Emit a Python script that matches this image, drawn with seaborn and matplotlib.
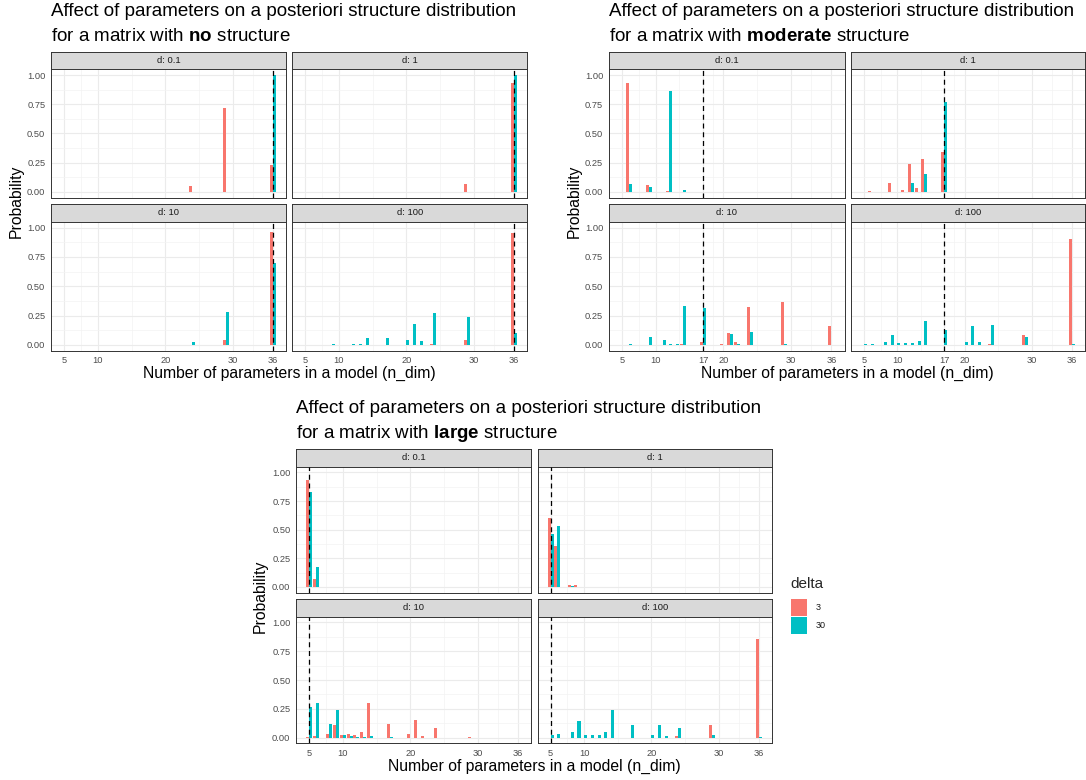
import pandas as pd
import matplotlib
matplotlib.use("Agg")
import matplotlib.pyplot as plt
from matplotlib.patches import Rectangle
import seaborn as sns

# --- DATA ---
NDIM = [5, 6, 8, 9, 10, 11, 12, 13, 14, 17, 20, 21, 22, 24, 29, 36]
D_LABELS = ["d: 0.1", "d: 1", "d: 10", "d: 100"]
DELTAS = ["3", "30"]
COLORS = {"3": "#F8766D", "30": "#00BFC4"}

# no structure       5     6     8     9     10    11    12    13    14    17    20    21    22    24    29    36
NO_D01_3    = [0,    0,    0,    0,    0,    0,    0,    0,    0,    0,    0,    0,    0,    0.05, 0.72, 0.23]
NO_D01_30   = [0,    0,    0,    0,    0,    0,    0,    0,    0,    0,    0,    0,    0,    0,    0,    1.00]
NO_D1_3     = [0,    0,    0,    0,    0,    0,    0,    0,    0,    0,    0,    0,    0,    0,    0.07, 0.93]
NO_D1_30    = [0,    0,    0,    0,    0,    0,    0,    0,    0,    0,    0,    0,    0,    0,    0,    1.00]
NO_D10_3    = [0,    0,    0,    0,    0,    0,    0,    0,    0,    0,    0,    0,    0,    0,    0.04, 0.96]
NO_D10_30   = [0,    0,    0,    0,    0,    0,    0,    0,    0,    0,    0,    0,    0,    0.02, 0.28, 0.70]
NO_D100_3   = [0,    0,    0,    0,    0,    0,    0,    0,    0,    0,    0,    0,    0,    0.003, 0.04, 0.957]
NO_D100_30  = [0,    0,    0.002, 0.003, 0.002, 0.002, 0.003, 0.011, 0.06, 0.06, 0.04, 0.177, 0.03, 0.27, 0.234, 0.10]

# moderate structure
MOD_D01_3   = [0,    0.93, 0.003, 0.06, 0,    0,    0.01, 0,    0,    0,    0,    0,    0,    0,    0,    0]
MOD_D01_30  = [0,    0.07, 0,    0.045, 0,   0,    0.86, 0,    0.02, 0.003, 0,   0,    0,    0,    0,    0]
MOD_D1_3    = [0,    0.01, 0,    0.074, 0,   0.02, 0.24, 0.03, 0.28, 0.345, 0,   0,    0,    0,    0,    0]
MOD_D1_30   = [0,    0,    0,    0.002, 0,   0,    0.074, 0,   0.15, 0.77, 0,    0,    0,    0,    0,    0]
MOD_D10_3   = [0,    0,    0,    0,    0,    0,    0,    0,    0.006, 0.02, 0.003, 0.097, 0.02, 0.326, 0.363, 0.163]
MOD_D10_30  = [0,    0.005, 0,   0.066, 0.002, 0.037, 0.011, 0.003, 0.33, 0.31, 0,  0.09, 0.011, 0.11, 0.011, 0]
MOD_D100_3  = [0,    0,    0,    0,    0,    0,    0,    0,    0,    0,    0,    0,    0,    0.008, 0.08, 0.905]
MOD_D100_30 = [0.005, 0.01, 0.02, 0.08, 0.012, 0.017, 0.012, 0.03, 0.205, 0.125, 0.025, 0.16, 0.028, 0.165, 0.066, 0.008]

# large structure
LRG_D01_3   = [0.93, 0.067, 0,   0,    0,    0,    0,    0,    0,    0,    0,    0,    0,    0,    0,    0]
LRG_D01_30  = [0.83, 0.174, 0,   0,    0,    0,    0,    0,    0,    0,    0,    0,    0,    0,    0,    0]
LRG_D1_3    = [0.60, 0.357, 0.02, 0.017, 0,  0,    0,    0,    0,    0,    0,    0,    0,    0,    0,    0]
LRG_D1_30   = [0.46, 0.53, 0.005, 0.003, 0,  0,    0,    0,    0,    0,    0,    0,    0,    0,    0,    0]
LRG_D10_3   = [0.003, 0.015, 0.032, 0.108, 0.02, 0.03, 0.018, 0.047, 0.296, 0.12, 0.027, 0.15, 0.012, 0.084, 0.008, 0]
LRG_D10_30  = [0.265, 0.30, 0.12, 0.24, 0.02, 0.015, 0.005, 0.003, 0.015, 0.002, 0, 0,   0,    0,    0,    0]
LRG_D100_3  = [0,    0,    0,    0,    0,    0,    0,    0,    0,    0,    0,    0,    0,    0.015, 0.108, 0.86]
LRG_D100_30 = [0.02, 0.03, 0.052, 0.142, 0.023, 0.026, 0.02, 0.044, 0.241, 0.11, 0.02, 0.108, 0.015, 0.084, 0.02, 0.003]

# --- LAYOUT (pixels) ---
W, H = 1086, 780
PLOTS = [
    dict(word="no", vline=36,
         facets=[(NO_D01_3, NO_D01_30), (NO_D1_3, NO_D1_30), (NO_D10_3, NO_D10_30), (NO_D100_3, NO_D100_30)],
         breaks=[5, 10, 20, 30, 36], minor=[7.5, 15, 25, 33],
         cols=[(50.9, 286.4), (291.9, 527.4)],
         rows=[(51.7, 69.3, 197.7), (204.0, 221.7, 350.7)], ylab_x=16),
    dict(word="moderate", vline=17,
         facets=[(MOD_D01_3, MOD_D01_30), (MOD_D1_3, MOD_D1_30), (MOD_D10_3, MOD_D10_30), (MOD_D100_3, MOD_D100_30)],
         breaks=[5, 10, 17, 20, 30, 36], minor=[7.5, 13.5, 18.5, 25, 33],
         cols=[(608.8, 844.6), (850.8, 1085.0)],
         rows=[(51.7, 69.3, 197.7), (204.0, 221.7, 350.7)], ylab_x=574),
    dict(word="large", vline=5,
         facets=[(LRG_D01_3, LRG_D01_30), (LRG_D1_3, LRG_D1_30), (LRG_D10_3, LRG_D10_30), (LRG_D100_3, LRG_D100_30)],
         breaks=[5, 10, 20, 30, 36], minor=[7.5, 15, 25, 33],
         cols=[(296.0, 531.4), (537.5, 772.1)],
         rows=[(449.3, 466.7, 592.7), (599.3, 616.7, 743.3)], ylab_x=260.5),
]


def box(l, t, r, b):
    return [l / W, 1 - b / H, (r - l) / W, (b - t) / H]


def fy(y):
    return 1 - y / H


sns.set_theme(style="whitegrid")
plt.rcParams["font.family"] = ["Liberation Sans", "DejaVu Sans"]
plt.rcParams["mathtext.fontset"] = "custom"
plt.rcParams["mathtext.rm"] = "Liberation Sans"
plt.rcParams["mathtext.bf"] = "Liberation Sans:bold"

fig = plt.figure(figsize=(W / 100, H / 100), dpi=100)
fig.patch.set_facecolor("white")


def draw_facet(ax, p3, p30, vline, breaks, minor, show_x, show_y):
    df = pd.DataFrame({
        "n_dim": NDIM * 2,
        "delta": ["3"] * len(NDIM) + ["30"] * len(NDIM),
        "prob": list(p3) + list(p30),
    })
    sns.barplot(data=df, x="n_dim", y="prob", hue="delta", hue_order=DELTAS,
                palette=COLORS, native_scale=True, width=0.9, dodge=True,
                saturation=1, errorbar=None, linewidth=0, legend=False, ax=ax)
    ax.axvline(vline, color="black", lw=0.9, ls=(0, (4, 3)), zorder=3)
    ax.set_xlim(3.05, 37.95)
    ax.set_ylim(-0.05, 1.05)
    ax.set_xticks(breaks)
    ax.set_xticks(minor, minor=True)
    ax.set_xticklabels([str(b) for b in breaks])
    ax.set_yticks([0, 0.25, 0.5, 0.75, 1.0])
    ax.set_yticks([0.125, 0.375, 0.625, 0.875], minor=True)
    ax.set_yticklabels(["0.00", "0.25", "0.50", "0.75", "1.00"])
    ax.grid(which="major", color="#EBEBEB", lw=0.8)
    ax.grid(which="minor", color="#F3F3F3", lw=0.5)
    ax.set_axisbelow(True)
    ax.set_facecolor("white")
    ax.set_xlabel("")
    ax.set_ylabel("")
    for s in ax.spines.values():
        s.set_visible(True)
        s.set_color("#333333")
        s.set_linewidth(0.7)
    ax.tick_params(which="minor", length=0)
    ax.tick_params(which="major", length=2.5, width=0.6, color="#333333",
                   labelsize=6.7, labelcolor="#4D4D4D", pad=1.5)
    if not show_x:
        ax.tick_params(axis="x", which="major", length=0, labelbottom=False)
    if not show_y:
        ax.tick_params(axis="y", which="major", length=0, labelleft=False)


for plot in PLOTS:
    for i, (p3, p30) in enumerate(plot["facets"]):
        r, c = divmod(i, 2)
        left, right = plot["cols"][c]
        st, pt, pb = plot["rows"][r]
        # strip
        sax = fig.add_axes(box(left, st, right, pt))
        sax.set_facecolor("#D9D9D9")
        sax.set_xticks([])
        sax.set_yticks([])
        sax.grid(False)
        for s in sax.spines.values():
            s.set_visible(True)
            s.set_color("#333333")
            s.set_linewidth(0.7)
        sax.text(0.5, 0.5, D_LABELS[i], ha="center", va="center",
                 fontsize=6.8, color="#1A1A1A", transform=sax.transAxes)
        # panel
        ax = fig.add_axes(box(left, pt, right, pb))
        draw_facet(ax, p3, p30, plot["vline"], plot["breaks"], plot["minor"],
                   show_x=(r == 1), show_y=(c == 0))

    x0 = plot["cols"][0][0]
    x1 = plot["cols"][1][1]
    top = plot["rows"][0][0]
    bottom = plot["rows"][1][2]
    fig.text(x0 / W, fy(top - 36.0), "Affect of parameters on a posteriori structure distribution",
             fontsize=13.5, ha="left", va="baseline", color="black")
    fig.text(x0 / W, fy(top - 11.0), "for a matrix with $\\mathbf{" + plot["word"] + "}$ structure",
             fontsize=13.5, ha="left", va="baseline", color="black")
    fig.text((x0 + x1) / 2 / W, fy(bottom + 27.5), "Number of parameters in a model (n_dim)",
             fontsize=11.3, ha="center", va="baseline", color="black")
    fig.text(plot["ylab_x"] / W, fy((top + bottom) / 2), "Probability",
             fontsize=11.3, ha="center", va="center", rotation=90, color="black")

# legend
fig.text(790.7 / W, fy(584), "delta", fontsize=11, ha="left", va="center")
for j, lab in enumerate(DELTAS):
    ytop = 599.3 + j * 18.0
    fig.add_artist(Rectangle((790.7 / W, fy(ytop + 16.7)), 16.6 / W, 16.7 / H,
                             transform=fig.transFigure, facecolor=COLORS[lab], edgecolor="none"))
    fig.text(816 / W, fy(ytop + 8.4), lab, fontsize=6.5, ha="left", va="center", color="#1A1A1A")

fig.savefig("out.png", dpi=100)
